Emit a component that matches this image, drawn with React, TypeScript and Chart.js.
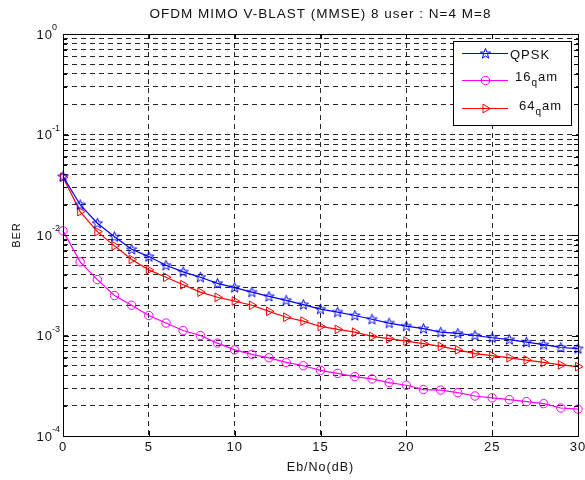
import React, { useEffect, useRef } from 'react';
import { Chart, registerables } from 'chart.js';

Chart.register(...registerables);

const TITLE = 'OFDM MIMO V-BLAST (MMSE) 8 user : N=4 M=8';
const X_LABEL = 'Eb/No(dB)';
const Y_LABEL = 'BER';

const EBNO = [0, 1, 2, 3, 4, 5, 6, 7, 8, 9, 10, 11, 12, 13, 14, 15, 16, 17, 18, 19, 20, 21, 22, 23, 24, 25, 26, 27, 28, 29, 30];

const QPSK = [0.0383, 0.0200, 0.0131, 0.0096, 0.0072, 0.0061, 0.0050, 0.0043, 0.0038, 0.0033, 0.0030, 0.0027, 0.00245, 0.00224, 0.00203, 0.00183, 0.00171, 0.00158, 0.00145, 0.00133, 0.00124, 0.00117, 0.00108, 0.00105, 0.00100, 0.00095, 0.00091, 0.00086, 0.00081, 0.00076, 0.00074];
const QAM16 = [0.0110, 0.0054, 0.0036, 0.0025, 0.0020, 0.00158, 0.00133, 0.00112, 0.00100, 0.00084, 0.00072, 0.00065, 0.00060, 0.00054, 0.00050, 0.00045, 0.00042, 0.00039, 0.00037, 0.00034, 0.00032, 0.00029, 0.000286, 0.00027, 0.00025, 0.00024, 0.00023, 0.00022, 0.00021, 0.00019, 0.000185];
const QAM64 = [0.0375, 0.0171, 0.0108, 0.0078, 0.0057, 0.0045, 0.0038, 0.0032, 0.0027, 0.0024, 0.0022, 0.0020, 0.00174, 0.00152, 0.00139, 0.00123, 0.00115, 0.00108, 0.00098, 0.00093, 0.00088, 0.00083, 0.00078, 0.00072, 0.00066, 0.00063, 0.00060, 0.00057, 0.00054, 0.00051, 0.00049];

const SERIES_NAMES = ['QPSK', '16_qam', '64_qam'];
const SERIES_COLORS = ['#0000ff', '#ff00ff', '#ff0000'];

const X_TICKS = [0, 5, 10, 15, 20, 25, 30];
const Y_DECADES = [-4, -3, -2, -1, 0];
const Y_TICK_BASE = '10';
const Y_TICK_EXPONENTS = ['-4', '-3', '-2', '-1', '0'];

const FONT = 'Liberation Sans, Arial, Helvetica, DejaVu Sans, sans-serif';

function buildYTicks(): number[] {
  const out: number[] = [];
  for (let i = 0; i < Y_DECADES.length - 1; i++) {
    for (let m = 1; m <= 9; m++) out.push(m * Math.pow(10, Y_DECADES[i]));
  }
  out.push(Math.pow(10, Y_DECADES[Y_DECADES.length - 1]));
  return out;
}
const Y_TICKS = buildYTicks();

function decadeIndex(v: number): number {
  const l = Math.log10(v);
  const r = Math.round(l);
  if (Math.abs(l - r) > 1e-6) return -1;
  return Y_DECADES.indexOf(r);
}

function makePentagram(color: string): HTMLCanvasElement {
  const c = document.createElement('canvas');
  c.width = 13;
  c.height = 13;
  const g = c.getContext('2d')!;
  g.strokeStyle = color;
  g.lineWidth = 1;
  g.beginPath();
  const cx = 6.5, cy = 6.8, ro = 5.4, ri = 2.2;
  for (let k = 0; k < 10; k++) {
    const r = k % 2 === 0 ? ro : ri;
    const a = -Math.PI / 2 + (k * Math.PI) / 5;
    const px = cx + r * Math.cos(a);
    const py = cy + r * Math.sin(a);
    if (k === 0) g.moveTo(px, py);
    else g.lineTo(px, py);
  }
  g.closePath();
  g.stroke();
  return c;
}

export default function App() {
  const ref = useRef<HTMLCanvasElement | null>(null);

  useEffect(() => {
    document.body.style.margin = '0';
    const canvas = ref.current;
    if (!canvas) return;
    const star = makePentagram(SERIES_COLORS[0]);
    const seriesValues = [QPSK, QAM16, QAM64];
    const pointStyles: any[] = [star, 'circle', 'triangle'];
    const rotations = [0, 0, 90];
    const radii = [5, 4.2, 5];

    const datasets = seriesValues.map((vals, i) => ({
      label: SERIES_NAMES[i],
      data: EBNO.map((x, j) => ({ x, y: vals[j] })),
      borderColor: SERIES_COLORS[i],
      backgroundColor: 'rgba(0,0,0,0)',
      borderWidth: 1.2,
      pointStyle: pointStyles[i],
      pointRotation: rotations[i],
      pointRadius: radii[i],
      pointBorderWidth: 1,
      pointBorderColor: SERIES_COLORS[i],
      pointBackgroundColor: 'rgba(0,0,0,0)',
      tension: 0,
      clip: false as any,
    }));

    const framePlugin = {
      id: 'matlabFrame',
      beforeDraw(chart: any) {
        chart.ctx.letterSpacing = '1px';
      },
      afterDraw(chart: any) {
        const ctx = chart.ctx as CanvasRenderingContext2D;
        const { left, right, top, bottom } = chart.chartArea;
        const xs = chart.scales.x;
        const ys = chart.scales.y;
        ctx.save();
        ctx.setLineDash([]);
        ctx.strokeStyle = '#000';
        ctx.lineWidth = 1;
        // inward ticks
        ctx.beginPath();
        X_TICKS.forEach((t) => {
          const px = Math.round(xs.getPixelForValue(t)) + 0.5;
          ctx.moveTo(px, bottom);
          ctx.lineTo(px, bottom - 5);
          ctx.moveTo(px, top);
          ctx.lineTo(px, top + 5);
        });
        Y_TICKS.forEach((t) => {
          const py = Math.round(ys.getPixelForValue(t)) + 0.5;
          const len = decadeIndex(t) >= 0 ? 6 : 4;
          ctx.moveTo(left, py);
          ctx.lineTo(left + len, py);
          ctx.moveTo(right, py);
          ctx.lineTo(right - len, py);
        });
        ctx.stroke();
        // box
        ctx.strokeRect(Math.round(left) + 0.5, Math.round(top) + 0.5, Math.round(right - left), Math.round(bottom - top));

        // y tick labels: 10 with superscript exponent
        ctx.fillStyle = '#111';
        ctx.letterSpacing = '1px';
        Y_TICKS.forEach((t) => {
          const di = decadeIndex(t);
          if (di < 0) return;
          const py = ys.getPixelForValue(t);
          ctx.textBaseline = 'alphabetic';
          ctx.textAlign = 'right';
          ctx.font = `13px ${FONT}`;
          ctx.fillText(Y_TICK_BASE, 53, py + 4.5);
          ctx.textAlign = 'left';
          ctx.font = `9px ${FONT}`;
          ctx.letterSpacing = '0px';
          ctx.fillText(Y_TICK_EXPONENTS[di], 52, py - 4);
          ctx.letterSpacing = '1px';
        });

        // legend
        const lx0 = 453, ly0 = 41, lx1 = 571, ly1 = 125;
        ctx.fillStyle = '#fff';
        ctx.fillRect(lx0, ly0, lx1 - lx0, ly1 - ly0);
        ctx.strokeStyle = '#000';
        ctx.strokeRect(lx0 + 0.5, ly0 + 0.5, lx1 - lx0, ly1 - ly0);
        const rowsY = [53.5, 80.5, 108.5];
        const textX = [510, 515, 519];
        const baseY = [58.5, 81, 110];
        chart.data.datasets.forEach((ds: any, i: number) => {
          const y = rowsY[i];
          ctx.strokeStyle = ds.borderColor;
          ctx.lineWidth = 1.2;
          ctx.beginPath();
          ctx.moveTo(462, y);
          ctx.lineTo(508, y);
          ctx.stroke();
          ctx.lineWidth = 1;
          const st = ds.pointStyle;
          if (st instanceof HTMLCanvasElement) {
            ctx.drawImage(st, 485.5 - st.width / 2, y - st.height / 2);
          } else {
            ctx.beginPath();
            if (st === 'circle') {
              ctx.arc(485.5, y, ds.pointRadius, 0, Math.PI * 2);
            } else {
              const r = ds.pointRadius;
              const a0 = (ds.pointRotation * Math.PI) / 180;
              for (let k = 0; k < 3; k++) {
                const a = a0 - Math.PI / 2 + (k * 2 * Math.PI) / 3;
                const px = 485.5 + r * Math.cos(a);
                const py = y + r * Math.sin(a);
                if (k === 0) ctx.moveTo(px, py);
                else ctx.lineTo(px, py);
              }
              ctx.closePath();
            }
            ctx.stroke();
          }
          // label with TeX-like subscript
          const label: string = ds.label;
          ctx.fillStyle = '#111';
          ctx.textBaseline = 'alphabetic';
          ctx.textAlign = 'left';
          ctx.letterSpacing = '1px';
          const parts = label.split('_');
          let x = textX[i];
          ctx.font = `13px ${FONT}`;
          ctx.fillText(parts[0], x, baseY[i]);
          x += ctx.measureText(parts[0]).width;
          if (parts.length > 1) {
            const sub = parts[1].charAt(0);
            const rest = parts[1].slice(1);
            ctx.font = `10px ${FONT}`;
            ctx.fillText(sub, x, baseY[i] + 5);
            x += ctx.measureText(sub).width;
            ctx.font = `13px ${FONT}`;
            ctx.fillText(rest, x, baseY[i]);
          }
        });
        ctx.restore();
      },
    };

    const chart = new Chart(canvas, {
      type: 'line',
      data: { datasets: datasets as any },
      plugins: [framePlugin],
      options: {
        responsive: false,
        animation: false,
        events: [],
        layout: { padding: { left: 0, right: 7, top: 0, bottom: 0 } },
        plugins: {
          legend: { display: false },
          tooltip: { enabled: false },
          title: {
            display: true,
            text: TITLE,
            fullSize: false,
            color: '#111',
            font: { family: FONT, size: 13.5, weight: 'normal' as any },
            padding: { top: 6, bottom: 11.8 },
          },
        },
        scales: {
          x: {
            type: 'linear',
            min: 0,
            max: 30,
            afterBuildTicks(scale: any) {
              scale.ticks = X_TICKS.map((v) => ({ value: v }));
            },
            afterFit(scale: any) {
              scale.height = 44;
              scale.paddingLeft = 0;
              scale.paddingRight = 0;
            },
            ticks: {
              autoSkip: false,
              maxRotation: 0,
              padding: 4,
              color: '#111',
              font: { family: FONT, size: 13 },
              callback: (v: any) => String(v),
            },
            grid: { color: 'rgba(0,0,0,0.85)', lineWidth: 1, drawTicks: false },
            border: { display: false, dash: [5, 4] },
            title: {
              display: true,
              text: X_LABEL,
              color: '#111',
              font: { family: FONT, size: 12.5 },
              padding: { top: 0, bottom: 4.5 },
            },
          },
          y: {
            type: 'logarithmic',
            min: 1e-4,
            max: 1,
            afterBuildTicks(scale: any) {
              scale.ticks = Y_TICKS.map((v) => ({ value: v, major: decadeIndex(v) >= 0 }));
            },
            afterFit(scale: any) {
              scale.width = 63;
              scale.paddingTop = 0;
              scale.paddingBottom = 0;
            },
            ticks: {
              autoSkip: false,
              display: false,
            },
            grid: { color: 'rgba(0,0,0,0.85)', lineWidth: 1, drawTicks: false },
            border: { display: false, dash: [5, 4] },
            title: {
              display: true,
              text: Y_LABEL,
              color: '#111',
              font: { family: FONT, size: 11 },
              padding: { top: 10, bottom: 0 },
            },
          },
        },
      },
    });
    return () => chart.destroy();
  }, []);

  return <canvas ref={ref} width={585} height={480} style={{ display: 'block' }} />;
}
